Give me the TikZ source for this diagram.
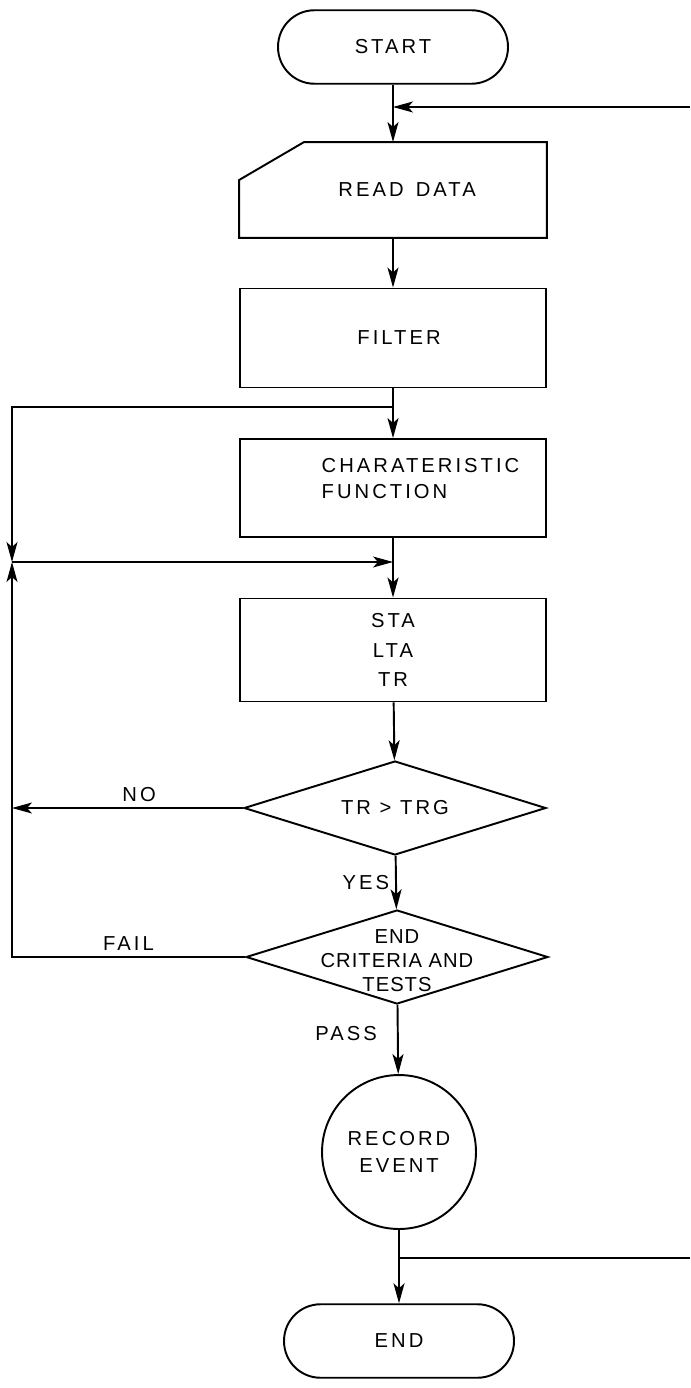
\documentclass[tikz,border=0pt]{standalone}
\usepackage{fontspec}
\setmainfont{Liberation Sans}[LetterSpace=15]
\usetikzlibrary{arrows.meta,shapes.geometric,calc}

\begin{document}
\begin{tikzpicture}[x=0.02cm,y=-0.02cm,font=\fontsize{11.5}{15}\selectfont]
  \tikzset{box/.style = {shape=rectangle,draw,line width=1.1pt,minimum width=6.12cm,inner sep=2pt}}
  \tikzset{term/.style = {shape=rectangle,draw,line width=1.1pt,rounded corners=0.73cm,minimum width=4.6cm,minimum height=1.47cm}}
  \tikzset{decision/.style = {shape=diamond,draw,line width=1.1pt,minimum width=6.04cm,minimum height=1.88cm,inner sep=0pt}}
  \tikzset{flow/.style = {line width=1.1pt,-{Stealth[length=4mm,width=2.2mm,inset=1mm]}}}
  \tikzset{back/.style = {line width=0.6pt,-{Stealth[length=4mm,width=2.2mm,inset=1mm]}}}

  \useasboundingbox (0,0) rectangle (690,1388);

	\node[term] (start) at (393,47) {START};
	
	\node[box,draw=none,minimum height=1.88cm] (read) at (393,190) {\hspace*{1.4em}READ\hspace{0.6em}DATA};
	\draw[line width=1.1pt] ($(read.north west)+(0,38)$) -- ($(read.north west)+(65,0)$)
	  -- (read.north east) -- (read.south east) -- (read.south west) -- cycle;
	\node[box,minimum height=1.98cm] (filter) at (393,338) {\hspace*{0.6em}FILTER};
	\node[box,minimum height=1.96cm,align=left] (char) at (393,488) {\hspace*{1.1cm}CHARATERISTIC\\\hspace*{1.1cm}FUNCTION\\[-4pt]};
	\node[box,minimum height=2.06cm,align=center,font=\fontsize{11.5}{17}\selectfont] (sta) at (393,650) {STA\\LTA\\TR};
	
	\node[decision,label={center:TR > TRG}] (check) at (395,808) {};
	\node[decision,label={[align=center,font=\fontsize{11.5}{13.6}\selectfont\addfontfeatures{LetterSpace=5},yshift=-2]center:END\\CRITERIA AND\\TESTS}] (test) at (397,957) {};
	
	\node[circle,draw,line width=1.1pt,minimum size=3.08cm,align=center] (rec) at (399,1152) {RECORD\\EVENT};
	\node[term] (end) at (399,1341) {END};

	\coordinate (in) at (690,107);
	\coordinate (topL) at (12,407);
	\coordinate (midL) at (12,562);
	\coordinate (out) at (690,1258);

    \foreach \from/\to in {start/read,read/filter,filter/char,char/sta,sta/check,rec/end}
    \draw[flow] (\from) -- (\to);
    \path[flow] (check) edge node [left]{YES} (test);
    \path[flow] (test) edge node [left=8pt,pos=0.42]{PASS} (rec);

	% loop back on the left
    \draw[back] (in) -- (start |- in);
    \draw[back] (filter |- topL) -- (topL) -- (midL);
    \draw[back] (check.west) -- node[above,pos=0.45]{NO} (check.west -| midL);
    \draw[back] (test.west) -- node[above]{FAIL} (test.west -| midL) -- (midL);
    \draw[back] (midL) -- (char |- midL);
    \draw[line width=0.6pt] (rec |- out) -- (out);

\end{tikzpicture}
\end{document}
